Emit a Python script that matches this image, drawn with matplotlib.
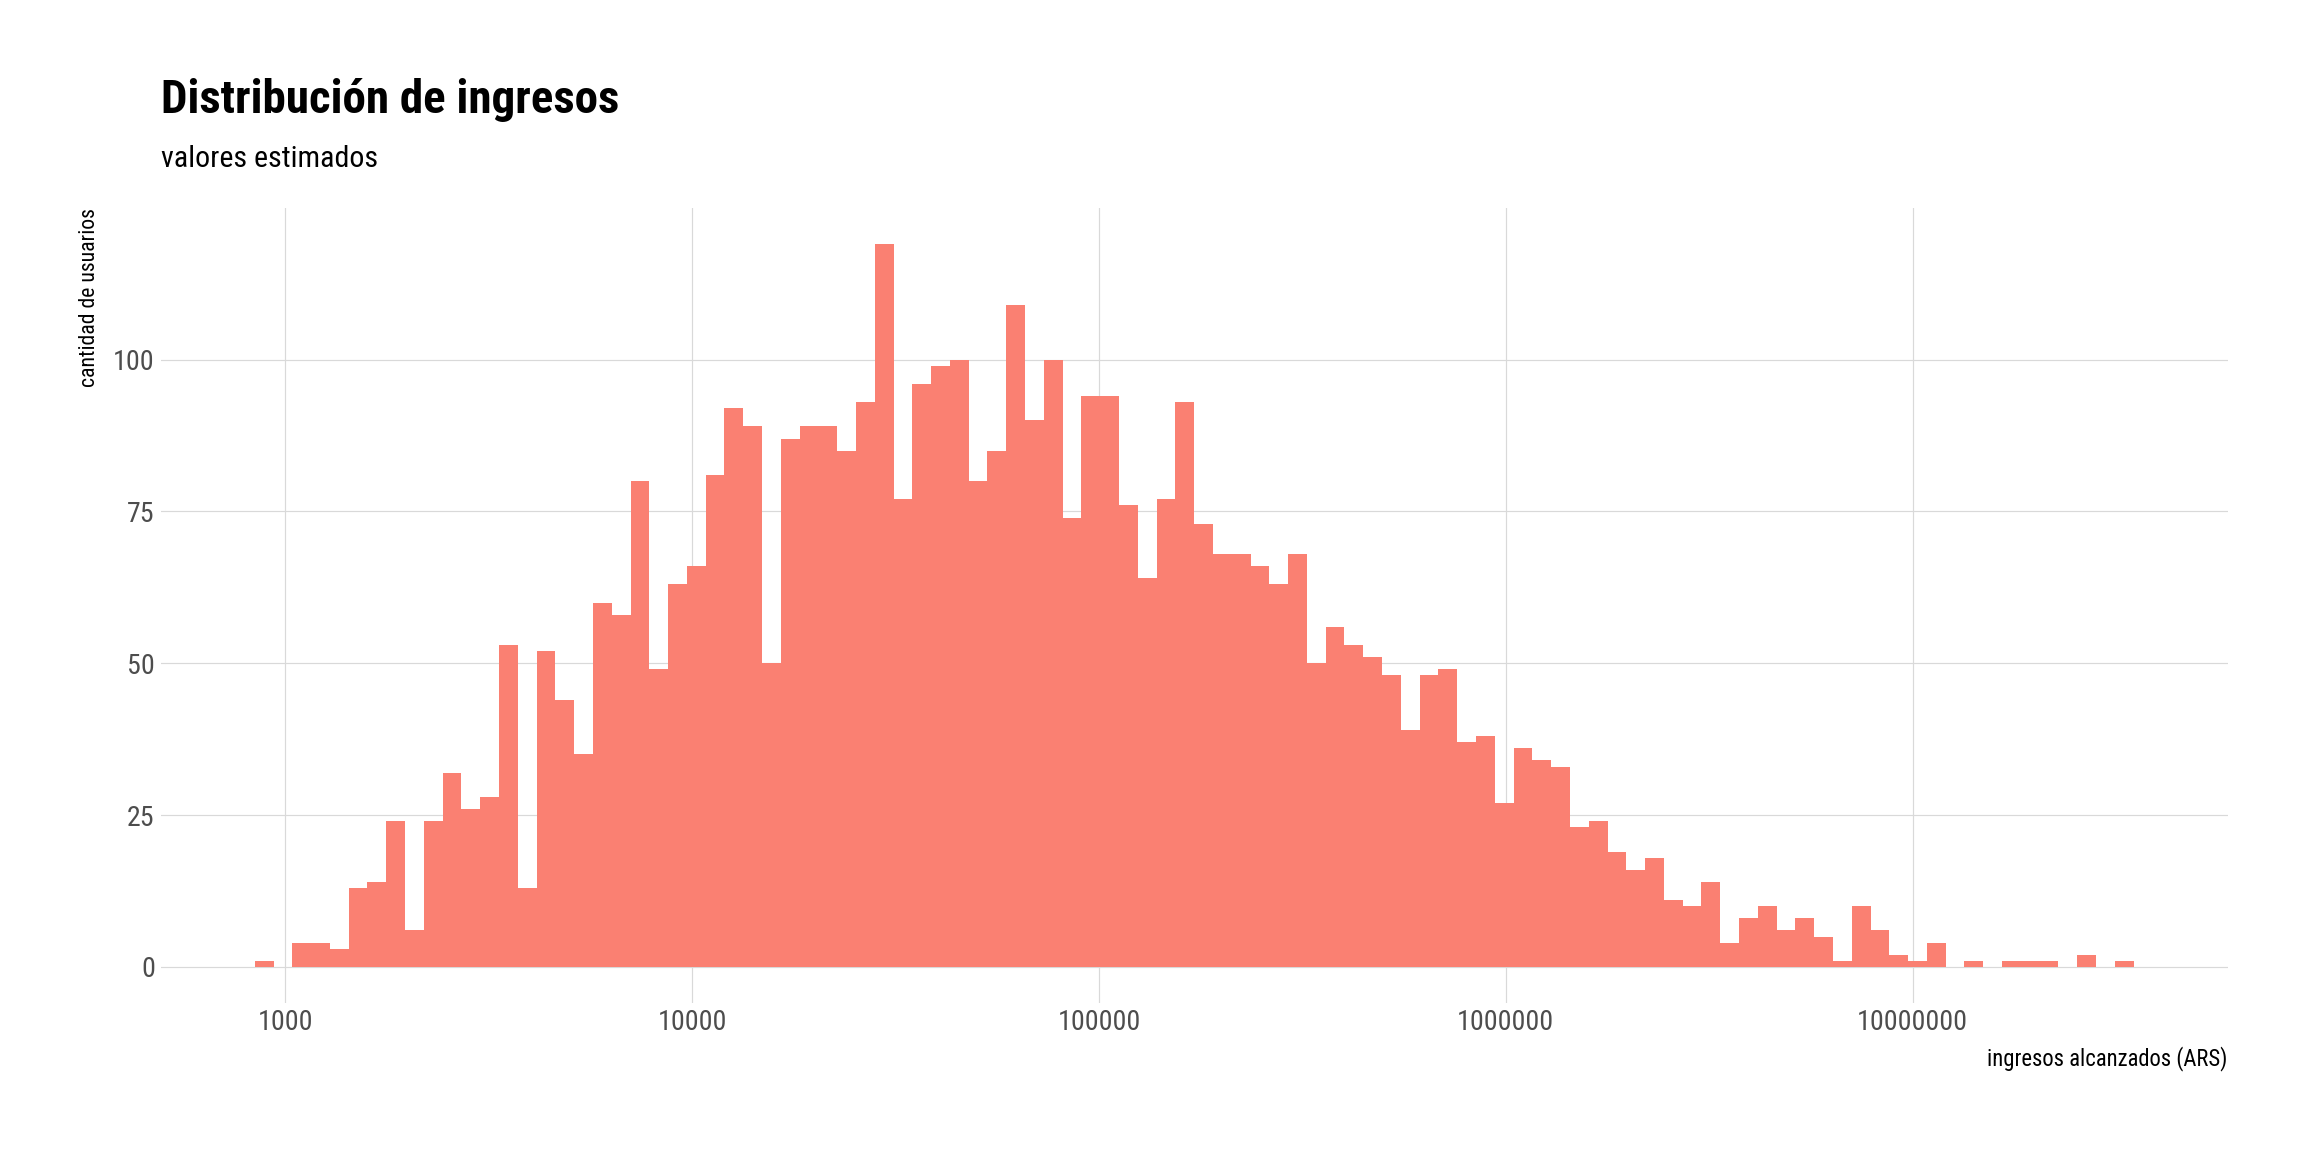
import numpy as np
import matplotlib
matplotlib.use("Agg")
import matplotlib.pyplot as plt
from matplotlib.ticker import FixedLocator, FuncFormatter, NullLocator

plt.rcParams['font.family'] = ['Roboto Condensed', 'Liberation Sans Narrow', 'Roboto', 'DejaVu Sans']

# histogram of log10(income): 100 equal bins in log space
bin_lo_log = 2.9255
bin_width_log = 0.04617
counts = [
    1, 0, 4, 4, 3, 13, 14, 24, 6, 24,
    32, 26, 28, 53, 13, 52, 44, 35, 60, 58,
    80, 49, 63, 66, 81, 92, 89, 50, 87, 89,
    89, 85, 93, 119, 77, 96, 99, 100, 80, 85,
    109, 90, 100, 74, 94, 94, 76, 64, 77, 93,
    73, 68, 68, 66, 63, 68, 50, 56, 53, 51,
    48, 39, 48, 49, 37, 38, 27, 36, 34, 33,
    23, 24, 19, 16, 18, 11, 10, 14, 4, 8,
    10, 6, 8, 5, 1, 10, 6, 2, 1, 4,
    0, 1, 0, 1, 1, 1, 0, 2, 0, 1,
]
x_ticks = [1e3, 1e4, 1e5, 1e6, 1e7]
y_ticks = [0, 25, 50, 75, 100]

title = "Distribución de ingresos"
subtitle = "valores estimados"
x_label = "ingresos alcanzados (ARS)"
y_label = "cantidad de usuarios"

edges_log = bin_lo_log + bin_width_log * np.arange(len(counts) + 1)
edges = 10 ** edges_log

fig = plt.figure(figsize=(16, 8), dpi=144)
ax = fig.add_axes([0.0698, 0.1293, 0.9668 - 0.0698, 0.8193 - 0.1293])

ax.bar(edges[:-1], counts, width=np.diff(edges), align='edge',
       color='#FA8072', linewidth=0, zorder=2)

ax.set_xscale('log')
span = edges_log[-1] - edges_log[0]
ax.set_xlim(10 ** (edges_log[0] - 0.05 * span), 10 ** (edges_log[-1] + 0.05 * span))
ymax = max(counts)
ax.set_ylim(-0.05 * ymax, ymax * 1.05)

ax.xaxis.set_major_locator(FixedLocator(x_ticks))
ax.xaxis.set_minor_locator(NullLocator())
ax.xaxis.set_major_formatter(FuncFormatter(lambda v, p: f"{int(round(v))}"))
ax.yaxis.set_major_locator(FixedLocator(y_ticks))

ax.grid(True, which='major', color='#D9D9D9', linewidth=0.6)
ax.set_axisbelow(True)
for s in ax.spines.values():
    s.set_visible(False)
ax.tick_params(axis='both', length=0, labelsize=14, labelcolor='#4D4D4D')
ax.tick_params(axis='x', pad=3)
ax.tick_params(axis='y', pad=3)

fig.text(0.0698, 0.9022, title, fontsize=23.5, fontweight='bold', ha='left', va='baseline')
fig.text(0.0698, 0.8553, subtitle, fontsize=15, ha='left', va='baseline')
fig.text(0.9668, 0.0755, x_label, fontsize=11.3, ha='right', va='baseline')
fig.text(0.039, 0.8193, y_label, fontsize=10.9, rotation=90, ha='center', va='top')

fig.savefig("out.png", dpi=144)
